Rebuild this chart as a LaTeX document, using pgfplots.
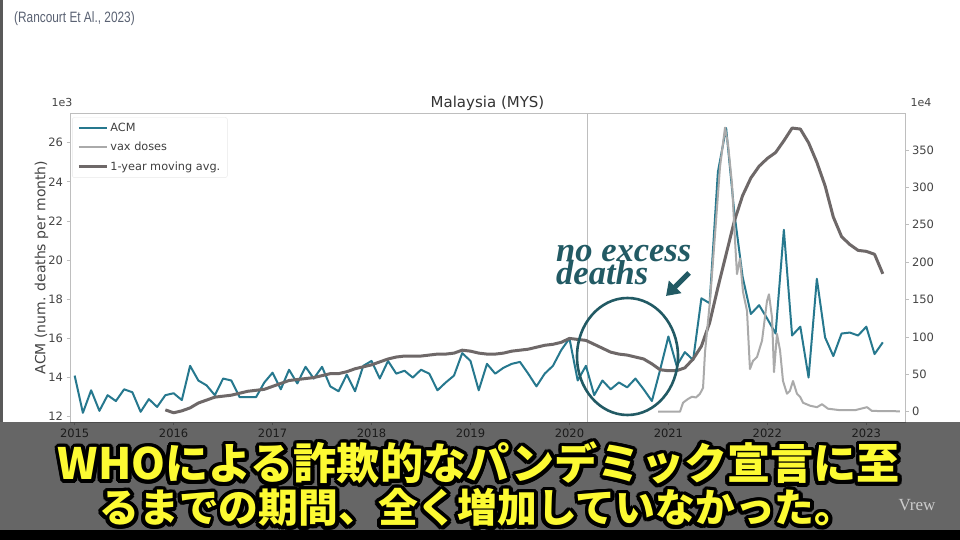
\documentclass[border=0pt]{standalone}
\usepackage{fontspec}
\setmainfont{DejaVu Sans}
\newfontfamily\cjk{Noto Sans CJK JP}
\newfontfamily\serifbi{Liberation Serif}[UprightFont=*, BoldFont=*, ItalicFont=* Bold Italic]
\newfontfamily\srcfont{Liberation Sans}
\usepackage{pgfplots}
\pgfplotsset{compat=1.18}
\usepackage{pgfplotstable}
\usetikzlibrary{arrows.meta}

\definecolor{acm}{RGB}{38,120,142}
\definecolor{vax}{RGB}{170,170,170}
\definecolor{mavg}{RGB}{110,104,104}
\definecolor{axisgray}{RGB}{190,190,190}
\definecolor{ticktext}{RGB}{68,68,68}
\definecolor{annot}{RGB}{34,90,100}
\definecolor{srcgray}{RGB}{90,98,115}
\definecolor{jpyellow}{RGB}{252,250,50}

% monthly all-cause mortality (thousands), month index from Jan 2015
\pgfplotstableread{
i acm
0 14.1
1 12.2
2 13.35
3 12.3
4 13.1
5 12.8
6 13.4
7 13.25
8 12.25
9 12.9
10 12.5
11 13.1
12 13.2
13 12.85
14 14.6
15 13.85
16 13.6
17 13.1
18 13.95
19 13.85
20 13.0
21 13.0
22 13.0
23 13.75
24 14.25
25 13.4
26 14.4
27 13.7
28 14.55
29 13.95
30 14.55
31 13.55
32 13.3
33 14.15
34 13.3
35 14.6
36 14.85
37 13.95
38 14.85
39 14.2
40 14.35
41 14.0
42 14.4
43 14.2
44 13.35
45 13.75
46 14.1
47 15.25
48 14.85
49 13.35
50 14.7
51 14.2
52 14.5
53 14.7
54 14.8
55 14.2
56 13.55
57 14.2
58 14.6
59 15.4
60 16.0
61 13.85
62 14.6
63 13.1
64 13.85
65 13.4
66 13.75
67 13.5
68 13.95
69 13.4
70 12.8
71 14.4
72 16.1
73 14.6
74 15.3
75 14.9
76 18.05
77 17.8
78 24.5
79 26.75
80 22.4
81 19.15
82 17.25
83 17.7
84 17.0
85 16.25
86 21.55
87 16.15
88 16.6
89 14.0
90 19.05
91 16.05
92 15.1
93 16.25
94 16.3
95 16.15
96 16.6
97 15.2
98 15.8
}\acmdata

% 1-year moving average
\pgfplotstableread{
i avg
11 12.35
12 12.2
13 12.3
14 12.45
15 12.7
16 12.85
17 13.0
18 13.05
19 13.1
20 13.2
21 13.3
22 13.35
23 13.4
24 13.55
25 13.7
26 13.85
27 13.9
28 13.95
29 14.0
30 14.1
31 14.2
32 14.2
33 14.3
34 14.45
35 14.55
36 14.65
37 14.8
38 14.95
39 15.05
40 15.1
41 15.1
42 15.1
43 15.15
44 15.2
45 15.2
46 15.25
47 15.4
48 15.35
49 15.25
50 15.2
51 15.2
52 15.25
53 15.35
54 15.4
55 15.45
56 15.55
57 15.65
58 15.7
59 15.8
60 16.0
61 15.95
62 15.9
63 15.7
64 15.5
65 15.3
66 15.2
67 15.15
68 15.05
69 14.95
70 14.7
71 14.4
72 14.35
73 14.35
74 14.5
75 14.95
76 15.6
77 16.8
78 18.6
79 20.3
80 22.0
81 23.3
82 24.2
83 24.8
84 25.2
85 25.5
86 26.1
87 26.75
88 26.7
89 26.0
90 25.0
91 23.8
92 22.2
93 21.2
94 20.8
95 20.5
96 20.45
97 20.3
98 19.3
}\avgdata

% vaccine doses (x 1e4)
\pgfplotstableread{
t dose
2020.895 0
2021.117 0
2021.148 12
2021.198 17
2021.238 20
2021.279 19
2021.319 24
2021.350 32
2021.370 80
2021.420 148
2021.471 237
2021.521 327
2021.572 380
2021.602 358
2021.643 304
2021.673 229
2021.693 184
2021.723 205
2021.754 160
2021.794 135
2021.824 57
2021.855 68
2021.895 73
2021.946 95
2021.996 148
2022.016 157
2022.047 126
2022.067 53
2022.097 104
2022.128 82
2022.158 41
2022.198 24
2022.228 28
2022.259 41
2022.299 24
2022.330 20
2022.360 12
2022.431 8
2022.501 6
2022.552 10
2022.612 4
2022.734 2
2022.886 2
2023.007 6
2023.057 1
2023.340 0.5
}\vaxdata

\newcommand\jpline[4]{% x, y, width, text
  \foreach \a in {0,20,...,340}
    \node[anchor=base, inner sep=0, text=black, shift={(\a:3.8pt)}] at (#1,#2)
      {\resizebox{#3}{!}{\cjk\bfseries\fontsize{42}{42}\selectfont #4}};
  \node[anchor=base, inner sep=0, text=jpyellow] at (#1,#2)
      {\resizebox{#3}{!}{\cjk\bfseries\fontsize{42}{42}\selectfont #4}};
}

\pgfplotsset{
  common/.style={
    at={(70pt,118pt)}, anchor=south west, scale only axis,
    width=835pt, height=309pt,
    xmin=2014.953, xmax=2023.391,
    tick align=outside, major tick length=3.5pt,
    tick style={axisgray, line width=0.8pt},
    axis line style={axisgray, line width=0.8pt},
    tick label style={text=ticktext, font=\fontsize{11.5}{12}\selectfont},
    /pgf/number format/assume math mode=true,
    /pgf/number format/1000 sep={},
  }
}

\begin{document}
\begin{tikzpicture}[x=1pt,y=1pt]
\useasboundingbox (0,0) rectangle (960,540);
\fill[white] (0,0) rectangle (960,540);
\fill[black!65] (0,118) rectangle (2.5,540);

\node[anchor=west, inner sep=0, text=srcgray] at (14,521)
  {\scalebox{0.79}[1]{\srcfont\fontsize{15}{15}\selectfont (Rancourt Et Al., 2023)}};

\begin{axis}[common,
  ymin=11.73, ymax=27.52,
  xtick={2015,2016,...,2023}, ytick={12,14,...,26},
  xtick pos=bottom, ytick pos=left,
  ylabel={ACM (num. deaths per month)},
  ylabel style={at={(axis description cs:-0.034,0.5)}, anchor=center,
    text=ticktext, font=\fontsize{14}{14}\selectfont},
  title={Malaysia (MYS)},
  title style={at={(axis description cs:0.5,1)}, anchor=base, yshift=-0.5pt,
    text=black!80, font=\fontsize{15}{15}\selectfont},
  legend cell align=left,
  legend style={at={(axis cs:2014.975,27.3)}, anchor=north west,
    draw=gray!18, fill=white, rounded corners=2pt,
    font=\fontsize{11.3}{13}\selectfont, text=black!75,
    row sep=5pt, inner xsep=5pt, inner ysep=4pt,
    /tikz/every even column/.append style={column sep=4pt}},
  legend image code/.code={\draw[#1] (0pt,0pt) -- (28pt,0pt);},
]
\draw[axisgray, line width=0.8pt] (axis cs:2020.182,11.73) -- (axis cs:2020.182,27.52);
\addplot[acm, line width=2pt, line join=round] table[x expr=2015+\thisrow{i}/12, y=acm] {\acmdata};
\addlegendentry{ACM}
\addlegendimage{vax, line width=2pt}
\addlegendentry{vax doses}
\addplot[mavg, line width=3pt, line join=round] table[x expr=2015+\thisrow{i}/12, y=avg] {\avgdata};
\addlegendentry{1-year moving avg.}
\end{axis}

\begin{axis}[common,
  ymin=-13.8, ymax=399.5,
  axis x line=none, axis y line*=right,
  ytick={0,50,...,350},
]
\addplot[vax, line width=2pt, line join=round] table[x=t, y=dose] {\vaxdata};
\end{axis}

\node[text=ticktext, font=\fontsize{11}{11}\selectfont] at (62,437) {1e3};
\node[text=ticktext, font=\fontsize{11}{11}\selectfont] at (921,437) {1e4};

% annotation
\draw[annot, line width=2.6pt] (627.5,183.5) ellipse [x radius=50.5, y radius=58.5];
\node[anchor=base west, inner sep=0, text=annot, font=\serifbi\itshape\fontsize{34.5}{34.5}\selectfont] at (556,278) {no excess};
\node[anchor=base west, inner sep=0, text=annot, font=\serifbi\itshape\fontsize{34.5}{34.5}\selectfont] at (556,255) {deaths};
\draw[annot, line width=5pt, -{Triangle[length=13pt, width=17pt]}] (689,267) -- (666,244);

% subtitle band
\fill[black, opacity=0.6] (0,10) rectangle (960,118);
\fill[black] (0,0) rectangle (960,10);
\jpline{479}{60}{842pt}{WHOによる詐欺的なパンデミック宣言に至}
\jpline{477}{17}{755pt}{るまでの期間、全く増加していなかった。}
\node[text=gray!40, font=\serifbi\fontsize{17}{17}\selectfont] at (917,35) {Vrew};
\end{tikzpicture}
\end{document}
